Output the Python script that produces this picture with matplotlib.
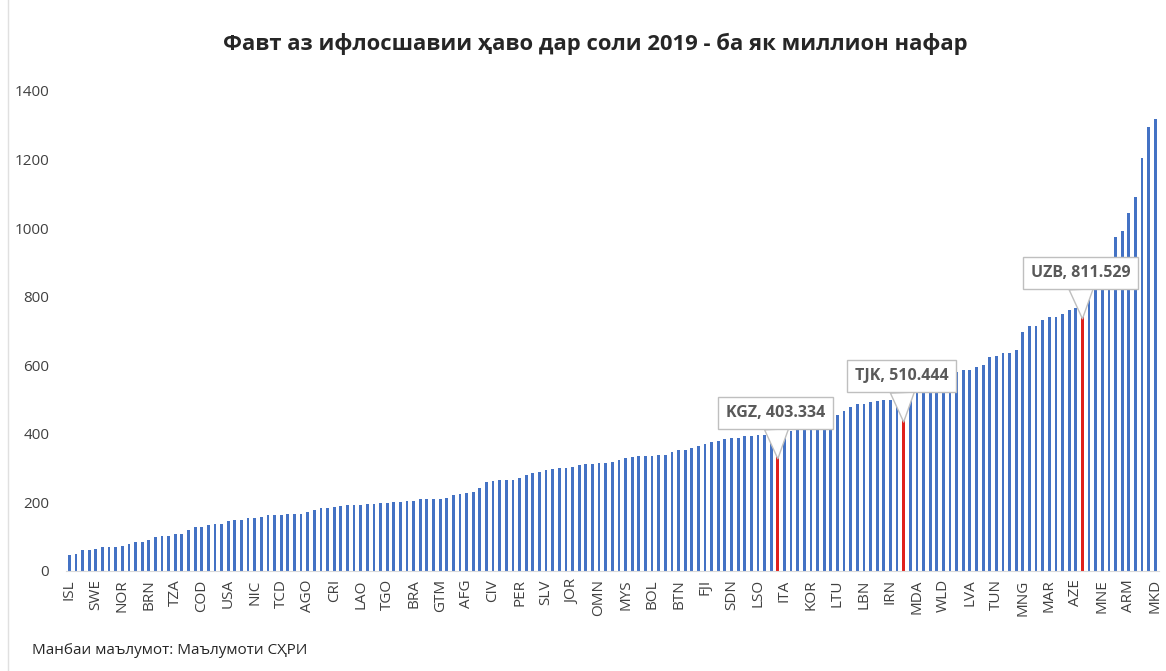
import matplotlib
matplotlib.use('Agg')
import matplotlib.pyplot as plt
import numpy as np

plt.rcParams['font.family'] = ['Open Sans', 'DejaVu Sans']

title = 'Фавт аз ифлосшавии ҳаво дар соли 2019 - ба як миллион нафар'
source = 'Манбаи маълумот: Маълумоти СҲРИ'

# every 4th country is labelled on the axis
tick_labels = ['ISL', 'SWE', 'NOR', 'BRN', 'TZA', 'COD', 'USA', 'NIC', 'TCD', 'AGO',
               'CRI', 'LAO', 'TGO', 'BRA', 'GTM', 'AFG', 'CIV', 'PER', 'SLV', 'JOR',
               'OMN', 'MYS', 'BOL', 'BTN', 'FJI', 'SDN', 'LSO', 'ITA', 'KOR', 'LTU',
               'LBN', 'IRN', 'MDA', 'WLD', 'LVA', 'TUN', 'MNG', 'MAR', 'AZE', 'MNE',
               'ARM', 'MKD']

# deaths per million, sorted
values = [46, 49, 62, 62, 65, 71, 71, 71, 74, 79,
          85, 85, 90, 100, 103, 103, 109, 109, 119, 127,
          127, 133, 136, 138, 145, 149, 150, 154, 154, 158,
          162, 162, 162, 165, 165, 165, 173, 178, 183, 183,
          187, 190, 192, 192, 193, 195, 195, 197, 199, 202,
          202, 205, 205, 209, 211, 211, 211, 214, 221, 225,
          228, 230, 243, 259, 262, 266, 266, 266, 272, 280,
          285, 290, 294, 297, 299, 301, 303, 308, 311, 313,
          314, 314, 318, 323, 329, 332, 334, 334, 335, 339,
          339, 346, 352, 353, 358, 365, 370, 376, 379, 385,
          388, 388, 393, 395, 396, 398, 400, 403.334, 408, 408,
          411, 415, 417, 417, 417, 418, 455, 466, 477, 486,
          487, 494, 496, 498, 500, 504, 510.444, 515, 518, 520,
          523, 526, 530, 540, 580, 586, 586, 594, 601, 623,
          626, 637, 637, 645, 696, 715, 715, 731, 741, 741,
          750, 761, 768, 811.529, 835, 850, 865, 890, 975, 992,
          1043, 1092, 1206, 1294, 1318]

highlight_codes = ['KGZ', 'TJK', 'UZB']
highlight_pos = [107, 126, 153]

blue = '#4472C4'
red = '#E0201B'

x = np.arange(len(values))
colors = [red if i in highlight_pos else blue for i in x]

fig = plt.figure(figsize=(11.66, 6.71), dpi=100)
ax = fig.add_axes([66 / 1166, 1 - 571 / 671, (1158.6 - 66) / 1166, 480 / 671])
ax.bar(x, values, width=0.42, color=colors, zorder=2)

ax.set_xlim(-0.5, len(values) - 0.5)
ax.set_ylim(0, 1400)
ax.set_yticks(np.arange(0, 1401, 200))
ax.set_xticks(x[::4])
ax.set_xticklabels(tick_labels, rotation=90)
ax.tick_params(axis='both', length=0, labelsize=11, colors='#404040')
ax.tick_params(axis='y', pad=12)
ax.tick_params(axis='x', pad=6)
for s in ['top', 'right', 'left']:
    ax.spines[s].set_visible(False)
ax.spines['bottom'].set_color('#d9d9d9')

# callouts for the three highlighted countries
for code, i in zip(highlight_codes, highlight_pos):
    v = values[i]
    ax.annotate('%s, %.3f' % (code, v), xy=(i, v - 76), xytext=(i - 0.3, v + 58),
                ha='center', va='center', fontsize=11.5, fontweight='bold', color='#595959',
                bbox=dict(boxstyle='square,pad=0.5', fc='white', ec='#bfbfbf', lw=1),
                arrowprops=dict(arrowstyle='wedge,tail_width=1.5', fc='white', ec='#bfbfbf',
                                lw=1, shrinkA=0, shrinkB=0),
                zorder=5)

fig.text(595 / 1166, 1 - 44 / 671, title, ha='center', va='center', fontsize=15.8,
         fontweight='bold', color='#262626')
fig.text(32 / 1166, 1 - 650 / 671, source, ha='left', va='center', fontsize=11, color='#262626')
fig.add_artist(plt.Line2D([8 / 1166, 8 / 1166], [0, 1], color='#e0e0e0', lw=1))

fig.savefig('out.png', dpi=100)
